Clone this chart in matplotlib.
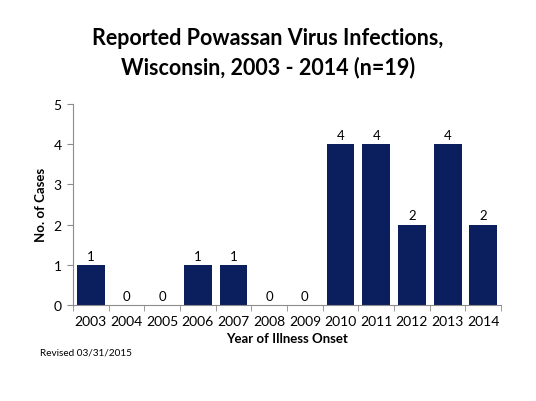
import matplotlib
matplotlib.use("Agg")
import matplotlib.pyplot as plt
import numpy as np

plt.rcParams['font.family'] = ['Lato', 'DejaVu Sans']

# Data
years = ['2003', '2004', '2005', '2006', '2007', '2008', '2009',
         '2010', '2011', '2012', '2013', '2014']
cases = [1, 0, 0, 1, 1, 0, 0, 4, 4, 2, 4, 2]

bar_color = '#0b1f5e'
axis_color = '#8c8c8c'

fig = plt.figure(figsize=(5.36, 4.02), dpi=100)
ax = fig.add_axes([0.136, 0.239, 0.799, 0.500])

x = np.arange(len(years))
ax.bar(x, cases, width=0.78, color=bar_color)

# value labels above bars
for xi, v in zip(x, cases):
    ax.text(xi, v + 0.08, str(v), ha='center', va='bottom', fontsize=9.5, color='black')

ax.set_xlim(-0.5, len(years) - 0.5)
ax.set_ylim(0, 5)
ax.set_yticks(range(0, 6))
ax.set_xticks(x)
ax.set_xticklabels(years)
# tick marks sit between categories
ax.set_xticks(np.arange(-0.5, len(years)), minor=True)
ax.tick_params(axis='x', which='major', length=0, labelsize=10, pad=7)
ax.tick_params(axis='x', which='minor', length=4, color=axis_color, direction='out')
ax.tick_params(axis='y', length=4, color=axis_color, labelsize=10, pad=4)

for s in ['top', 'right']:
    ax.spines[s].set_visible(False)
for s in ['left', 'bottom']:
    ax.spines[s].set_color(axis_color)
    ax.spines[s].set_linewidth(0.8)

ax.set_ylabel('No. of Cases', fontsize=9.5, fontweight='bold', labelpad=5)
ax.set_xlabel('Year of Illness Onset', fontsize=9.5, fontweight='bold', labelpad=4)

fig.text(0.5, 0.868, 'Reported Powassan Virus Infections,\nWisconsin, 2003 - 2014 (n=19)',
         ha='center', va='center', fontsize=15.5, fontweight='bold', linespacing=1.45)
fig.text(0.075, 0.123, 'Revised 03/31/2015', ha='left', va='center', fontsize=7.2)

fig.savefig('out.png', dpi=100)
